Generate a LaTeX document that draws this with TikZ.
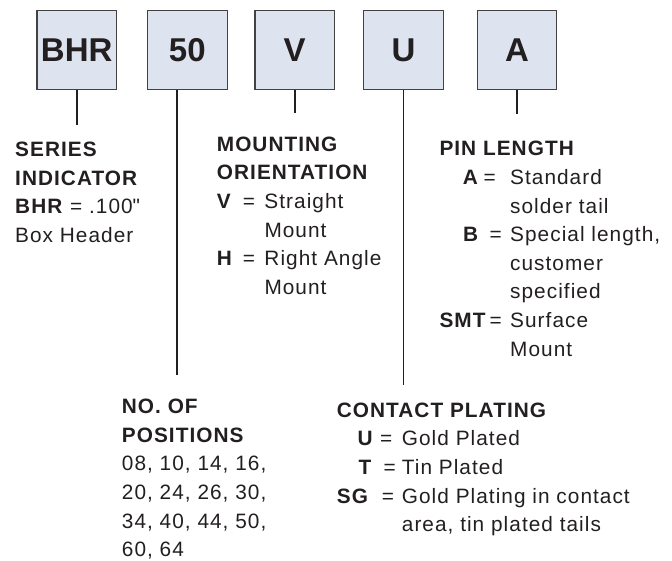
\documentclass[tikz,border=0pt]{standalone}
\usepackage{fontspec}
\setmainfont{Liberation Sans}[LetterSpace=5]
\newfontfamily\codefont{Liberation Sans}
\usetikzlibrary{positioning}

\definecolor{boxfill}{RGB}{221,228,240}
\definecolor{ink}{RGB}{35,31,32}

% code = description, with fixed columns (in pt from the node's left edge)
\newcommand{\optrow}[5]{\hspace*{#1pt}\makebox[\dimexpr#2pt-#1pt\relax][l]{\textbf{#4}}\makebox[\dimexpr#3pt-#2pt\relax][l]{=}#5}
\newcommand{\optcont}[2]{\hspace*{#1pt}#2}

\begin{document}
\begin{tikzpicture}[x=1pt,y=-1pt,text=ink,
                    lead/.style={draw=ink,line width=1.9pt},
                    legend/.style={anchor=north west,inner sep=0pt,align=left,
                                   font=\fontsize{20.8}{28.6}\selectfont}]
  \tikzstyle{codebox}=[draw=ink!85,fill=boxfill,line width=1.1pt,
                       minimum width=79.5pt,minimum height=79.3pt,
                       font=\codefont\bfseries\fontsize{33}{33}\selectfont]
  \useasboundingbox (0,0) rectangle (672,561);

  \node[codebox] (bhr) at (76.7,50.3)  {BHR};
  \node[codebox] (n50) at (187.3,50.3) {50};
  \node[codebox] (mnt) at (294.7,50.3) {V};
  \node[codebox] (plt) at (403.5,50.3) {U};
  \node[codebox] (pin) at (517,50.3)   {A};

  \node[legend] (series)    at (15,141.9)    {\textbf{SERIES}\\\textbf{INDICATOR}\\
        \textbf{BHR} = .100\textquotedbl\\Box Header};
  \node[legend] (mounting)  at (216.7,136.5) {\textbf{MOUNTING}\\\textbf{ORIENTATION}\\
        \optrow{0}{26}{47.6}{V}{Straight}\\\optcont{47.6}{Mount}\\
        \optrow{0}{26}{47.6}{H}{Right Angle}\\\optcont{47.6}{Mount}};
  \node[legend] (pinlength) at (439.3,141.2) {\textbf{PIN LENGTH}\\
        \optrow{23.4}{44}{70.7}{A}{Standard}\\\optcont{70.7}{solder tail}\\
        \optrow{23.7}{50}{70.7}{B}{Special length,}\\\optcont{70.7}{customer}\\
        \optcont{70.7}{specified}\\
        \optrow{0}{50}{70.7}{SMT}{Surface}\\\optcont{70.7}{Mount}};
  \node[legend] (positions) at (121.7,399)   {\textbf{NO. OF}\\\textbf{POSITIONS}\\
        08, 10, 14, 16,\\20, 24, 26, 30,\\34, 40, 44, 50,\\60, 64};
  \node[legend] (plating)   at (336.7,402.6) {\textbf{CONTACT PLATING}\\
        \optrow{20.6}{43.3}{65}{U}{Gold Plated}\\
        \optrow{21.6}{46.6}{65}{T}{Tin Plated}\\
        \optrow{0}{45}{65}{SG}{Gold Plating in contact}\\
        \optcont{65}{area, tin plated tails}};

  \coordinate (serend) at (76.7,125);
  \coordinate (posend) at (176.7,375);
  \coordinate (mntend) at (294.7,113);
  \coordinate (pltend) at (403.5,385);
  \coordinate (pinend) at (517,114);

  \path[lead] (bhr) edge (serend)
              (n50.south -| posend) edge (posend)
              (mnt) edge (mntend)
              (plt) edge (pltend)
              (pin) edge (pinend);
\end{tikzpicture}
\end{document}
